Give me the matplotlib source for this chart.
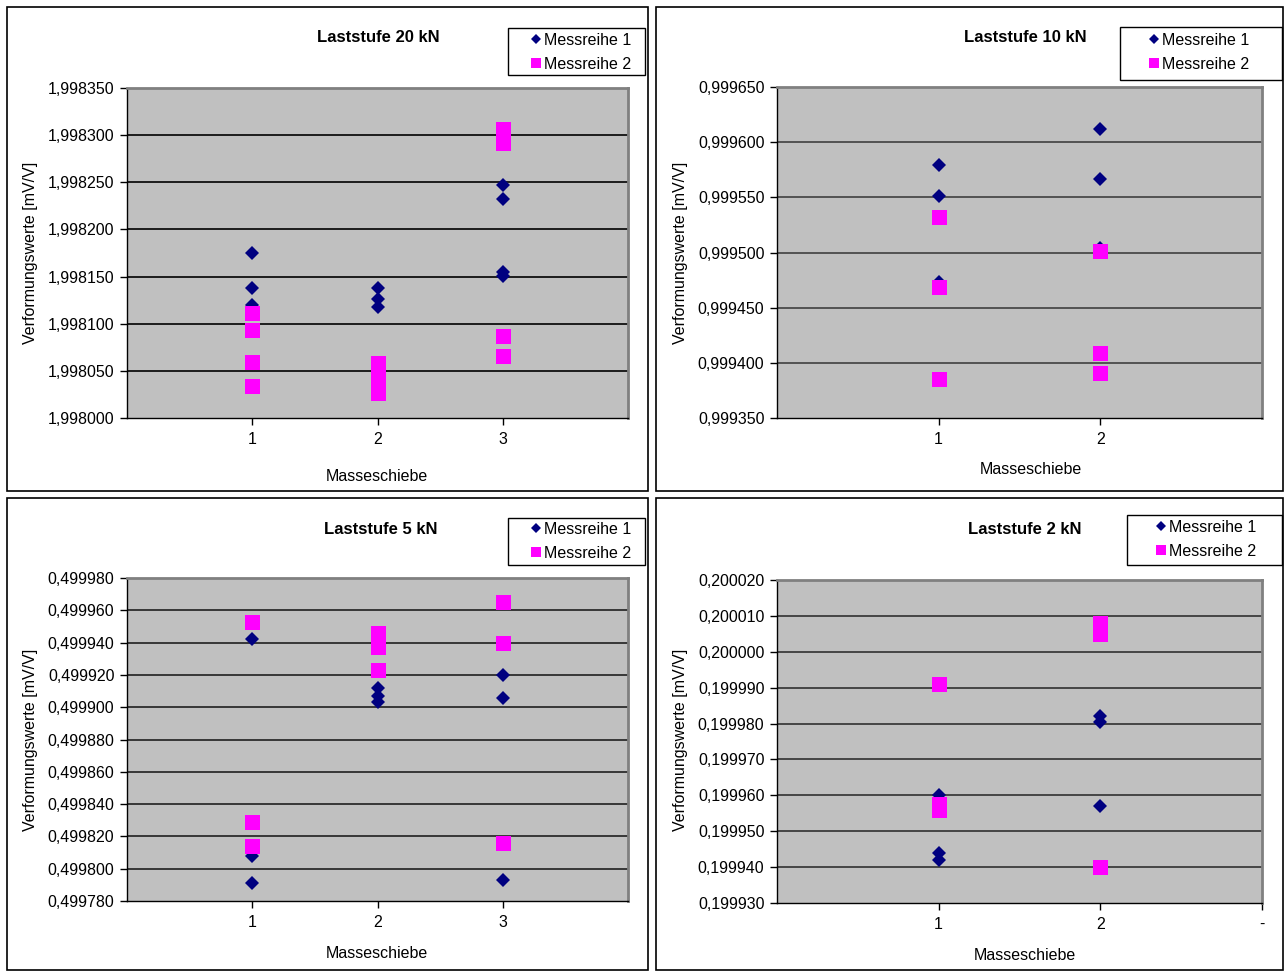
import numpy as np
import matplotlib
matplotlib.use("Agg")
import matplotlib.pyplot as plt
from matplotlib.patches import Rectangle
from matplotlib.ticker import FuncFormatter

plt.rcParams['font.family'] = ['Liberation Sans', 'DejaVu Sans']

W, H = 1287, 973

# Laststufe 20 kN
kn20_x1 = [1, 1, 1, 2, 2, 2, 3, 3, 3, 3]
kn20_y1 = [1.998175, 1.998138, 1.998120, 1.998138, 1.998126, 1.998118,
           1.998247, 1.998232, 1.998155, 1.998151]
kn20_x2 = [1, 1, 1, 1, 2, 2, 2, 2, 2, 3, 3, 3, 3, 3]
kn20_y2 = [1.998111, 1.998093, 1.998059, 1.998034,
           1.998058, 1.998048, 1.998040, 1.998033, 1.998026,
           1.998306, 1.998300, 1.998292, 1.998087, 1.998066]

# Laststufe 10 kN
kn10_x1 = [1, 1, 1, 2, 2, 2]
kn10_y1 = [0.999579, 0.999551, 0.999473, 0.999612, 0.999567, 0.999504]
kn10_x2 = [1, 1, 1, 2, 2, 2]
kn10_y2 = [0.999532, 0.999469, 0.999385, 0.999501, 0.999409, 0.999391]

# Laststufe 5 kN
kn5_x1 = [1, 1, 1, 2, 2, 2, 3, 3, 3]
kn5_y1 = [0.499942, 0.499808, 0.499791, 0.499912, 0.499907, 0.499903,
          0.499920, 0.499906, 0.499793]
kn5_x2 = [1, 1, 1, 2, 2, 2, 2, 3, 3, 3]
kn5_y2 = [0.499953, 0.499829, 0.499814, 0.499946, 0.499942, 0.499937, 0.499923,
          0.499965, 0.499940, 0.499816]

# Laststufe 2 kN
kn2_x1 = [1, 1, 1, 2, 2, 2]
kn2_y1 = [0.199960, 0.199944, 0.199942, 0.199982, 0.1999805, 0.199957]
kn2_x2 = [1, 1, 1, 2, 2, 2]
kn2_y2 = [0.199991, 0.1999576, 0.199956, 0.200008, 0.200005, 0.199940]

series_names = ["Messreihe 1", "Messreihe 2"]
x_label = "Masseschiebe"
y_label = "Verformungswerte [mV/V]"

NAVY = "#000080"
PINK = "#FF00FF"
GRAY = "#C0C0C0"


def fx(x):
    return x / W


def fy(y):
    return 1 - y / H


def fmt(v, pos):
    return f"{v:.6f}".replace(".", ",")


def add_box(fig, x0, y0, x1, y1, lw):
    fig.add_artist(Rectangle((fx(x0), fy(y1)), fx(x1 - x0), (y1 - y0) / H,
                             transform=fig.transFigure, fill=False,
                             edgecolor="black", lw=lw))


def draw_panel(fig, box, title, xs1, ys1, xs2, ys2, ylim, ystep, xmax,
               xticklabels, frame, title_pos, legend_box, legend_anchor,
               xlabel_pos, ylabel_pos, grid_color):
    x0, y0, x1, y1 = box
    ax = fig.add_axes([fx(x0), fy(y1), fx(x1 - x0), (y1 - y0) / H])
    ax.set_facecolor(GRAY)

    ax.plot(xs1, ys1, linestyle="none", marker="D", markersize=7.6,
            color=NAVY, markeredgewidth=0, label=series_names[0], zorder=3)
    ax.plot(xs2, ys2, linestyle="none", marker="s", markersize=10.8,
            color=PINK, markeredgewidth=0, label=series_names[1], zorder=4)

    ax.set_xlim(0, xmax)
    ax.set_ylim(*ylim)
    yt = np.arange(ylim[0], ylim[1] + ystep / 2, ystep)
    ax.set_yticks(yt)
    ax.yaxis.set_major_formatter(FuncFormatter(fmt))
    ax.set_xticks(range(1, len(xticklabels) + 1))
    ax.set_xticklabels(xticklabels)
    ax.tick_params(axis="both", direction="out", length=5, width=1,
                   labelsize=11.5, color="black", pad=4)
    ax.tick_params(axis="x", pad=5)

    for v in yt[1:-1]:
        ax.axhline(v, color=grid_color, lw=1.2, zorder=1)

    for side in ["top", "right"]:
        ax.spines[side].set_color("#808080")
        ax.spines[side].set_linewidth(2)
    for side in ["left", "bottom"]:
        ax.spines[side].set_color("black")
        ax.spines[side].set_linewidth(1)

    fig.text(fx(title_pos[0]), fy(title_pos[1]), title, ha="center", va="center",
             fontsize=12, fontweight="bold")
    fig.text(fx(xlabel_pos[0]), fy(xlabel_pos[1]), x_label, ha="center",
             va="center", fontsize=11.5)
    fig.text(fx(ylabel_pos[0]), fy(ylabel_pos[1]), y_label, ha="center",
             va="center", rotation=90, fontsize=11.5)

    ax.legend(loc="upper left",
              bbox_to_anchor=(fx(legend_anchor[0]), fy(legend_anchor[1])),
              bbox_transform=fig.transFigure, frameon=False, borderpad=0,
              handlelength=0.7, handletextpad=0.15, labelspacing=0.55,
              markerscale=0.7, fontsize=11.5, borderaxespad=0)
    add_box(fig, *legend_box, lw=1)
    add_box(fig, *frame, lw=1.2)
    return ax


fig = plt.figure(figsize=(W / 100, H / 100), dpi=100)

draw_panel(fig, (127, 88, 628, 418), "Laststufe 20 kN",
           kn20_x1, kn20_y1, kn20_x2, kn20_y2,
           (1.998000, 1.998350), 0.00005, 4, ["1", "2", "3"],
           (7, 7, 648, 491), (378, 38), (508, 28, 645, 75), (530, 33),
           (377, 476), (30, 253), "black")

draw_panel(fig, (777, 87, 1262, 418), "Laststufe 10 kN",
           kn10_x1, kn10_y1, kn10_x2, kn10_y2,
           (0.999350, 0.999650), 0.00005, 3, ["1", "2"],
           (656, 7, 1283, 491), (1025, 38), (1120, 27, 1282, 80), (1148, 33),
           (1031, 469), (680, 253), "#404040")

draw_panel(fig, (127, 578, 628, 901), "Laststufe 5 kN",
           kn5_x1, kn5_y1, kn5_x2, kn5_y2,
           (0.499780, 0.499980), 0.00002, 4, ["1", "2", "3"],
           (7, 498, 648, 970), (381, 530), (508, 518, 645, 565), (530, 522),
           (377, 953), (30, 740), "#202020")

draw_panel(fig, (777, 580, 1262, 903), "Laststufe 2 kN",
           kn2_x1, kn2_y1, kn2_x2, kn2_y2,
           (0.199930, 0.200020), 0.00001, 3, ["1", "2", "-"],
           (656, 498, 1283, 970), (1025, 530), (1127, 515, 1282, 565), (1155, 520),
           (1025, 955), (680, 740), "#303030")

fig.savefig("out.png", dpi=100)
